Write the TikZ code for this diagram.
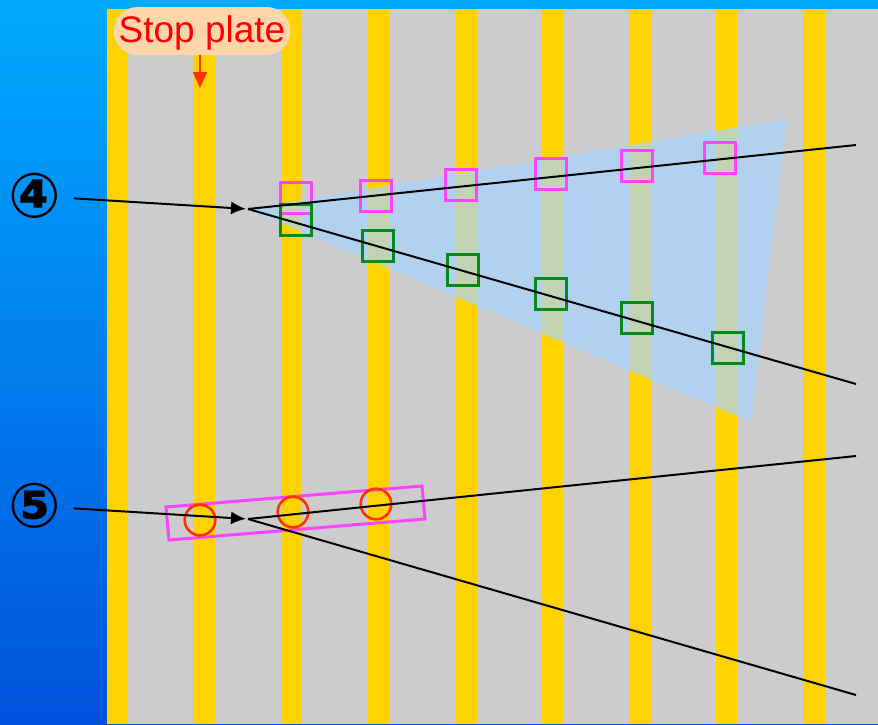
\documentclass[tikz,border=0pt]{standalone}
\usepackage{fontspec}
\setmainfont{Liberation Sans}
\newfontfamily\circfont{DejaVu Sans}
\usetikzlibrary{arrows.meta,positioning}
\definecolor{SkyTop}{RGB}{0,170,255}
\definecolor{SkyBottom}{RGB}{0,82,220}
\definecolor{PlateGray}{RGB}{204,204,204}
\definecolor{SlotYellow}{RGB}{255,211,0}
\definecolor{FanBlue}{RGB}{168,212,255}
\definecolor{BoxPink}{RGB}{255,68,255}
\definecolor{BoxGreen}{RGB}{0,140,20}
\definecolor{HoleRed}{RGB}{255,51,0}
\definecolor{TagPeach}{RGB}{255,214,170}
\tikzset{
  slot/.style={fill=SlotYellow, draw=none},
  ray/.style={line width=1pt, black},
  pinkbox/.style={draw=BoxPink, line width=1.5pt, minimum size=15.3pt, inner sep=0pt},
  greenbox/.style={draw=BoxGreen, line width=1.5pt, minimum size=15.3pt, inner sep=0pt},
  hole/.style={circle, draw=HoleRed, line width=1.3pt, minimum size=15.3pt, inner sep=0pt},
  circnum/.style={font=\circfont\bfseries\fontsize{31}{31}\selectfont, inner sep=1pt},
}

\begin{document}
\begin{tikzpicture}[x=0.5pt, y=-0.5pt, >={Latex[length=7.5pt,width=6.5pt]}]
      \useasboundingbox (0,0) rectangle (878,724);
      \shade[top color=SkyTop, bottom color=SkyBottom] (0,0) rectangle (878,724);
      \fill[PlateGray] (107,9) rectangle (878,724);

      % slots of the plate
      \fill[slot] (107,9) rectangle (128,724);
      \fill[slot] (193,9) rectangle (215,724);
      \fill[slot] (281,9) rectangle (302,724);
      \fill[slot] (368,9) rectangle (389,724);
      \fill[slot] (455,9) rectangle (477,724);
      \fill[slot] (542,9) rectangle (563,724);
      \fill[slot] (629,9) rectangle (651,724);
      \fill[slot] (716,9) rectangle (737,724);
      \fill[slot] (803,9) rectangle (825,724);

      \coordinate (apexA) at (248,209);
      \coordinate (endAu) at (856,145);
      \coordinate (endAl) at (856,384);
      \coordinate (apexB) at (248,519);
      \coordinate (endBu) at (856,456);
      \coordinate (endBl) at (856,695);

      \fill[FanBlue, opacity=0.7] (apexA) -- (787,119) -- (751,422) -- cycle;

      \node[pinkbox] (p1) at (296,198) {};
      \node[pinkbox] (p2) at (376,196) {};
      \node[pinkbox] (p3) at (461,185) {};
      \node[pinkbox] (p4) at (551,174) {};
      \node[pinkbox] (p5) at (637,166) {};
      \node[pinkbox] (p6) at (720,158) {};
      \node[greenbox] (g1) at (296,220) {};
      \node[greenbox] (g2) at (378,246) {};
      \node[greenbox] (g3) at (463,270) {};
      \node[greenbox] (g4) at (551,294) {};
      \node[greenbox] (g5) at (637,318) {};
      \node[greenbox] (g6) at (728,348) {};

      \draw[ray] (apexA) -- (endAu);
      \draw[ray] (apexA) -- (endAl);

      \draw[BoxPink, line width=1.5pt] (166,507) -- (422,486) -- (425,519) -- (169,540) -- cycle;
      \node[hole] (h1) at (200,520) {};
      \node[hole] (h2) at (293,512) {};
      \node[hole] (h3) at (376,504) {};

      \draw[ray] (apexB) -- (endBu);
      \draw[ray] (apexB) -- (endBl);

      \node[circnum] (n4) at (35,196) {④};
      \node[circnum] (n5) at (35,506) {⑤};
      \draw[ray, ->, shorten <=5pt, shorten >=1pt] (n4) -- (apexA);
      \draw[ray, ->, shorten <=5pt, shorten >=1pt] (n5) -- (apexB);

      \node[fill=TagPeach, rounded corners=12pt, minimum width=88.5pt, minimum height=24pt,
            inner sep=0pt, text=red, font=\fontsize{18.5}{18.5}\selectfont] (tag) at (202,31) {\raisebox{-5.5pt}[0pt][0pt]{Stop plate}};
      \coordinate (tagtip) at (200,88);
      \draw[HoleRed, line width=1pt, -{Triangle[length=8pt,width=7pt]}] (tag.south -| tagtip) -- (tagtip);
\end{tikzpicture}
\end{document}
